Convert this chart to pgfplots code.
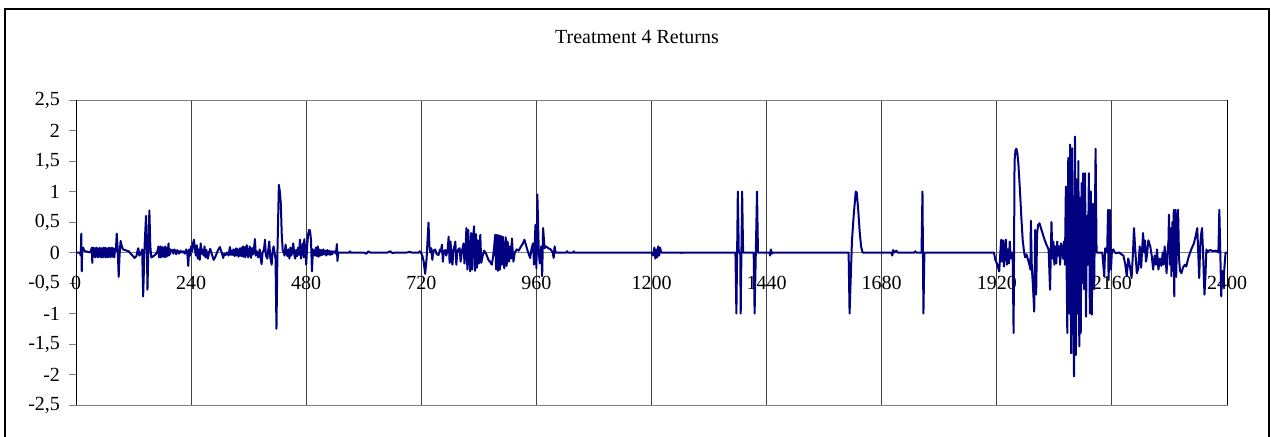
\documentclass[border=0pt]{standalone}
\usepackage{pgfplots}
\pgfplotsset{compat=1.18}
\usepackage{pgfplotstable}
\usepackage{fontspec}
\setmainfont{Liberation Serif}
\definecolor{series}{RGB}{0,0,128}
\definecolor{frame}{RGB}{128,128,128}

\pgfplotstableread{
x y
0 0
8 0
10 -0.05
11 0.31
12 -0.31
13 0.05
15 0.08
17 0.03
20 0.02
25 0.01
30 0
33 0.08
34 -0.17
35 0.07
36 -0.06
37 0.08
38 -0.07
39 0.06
40 -0.08
41 0.07
42 -0.05
43 0.08
44 -0.07
45 0.05
46 -0.08
47 0.06
48 -0.06
49 0.08
50 -0.07
51 0.06
52 -0.08
53 0.07
54 -0.05
55 0.06
56 -0.08
57 0.08
58 -0.06
59 0.05
60 -0.07
61 0.08
62 -0.08
63 0.06
64 -0.05
65 0.07
66 -0.08
67 0.06
68 -0.07
69 0.08
70 -0.06
71 0.05
72 -0.08
73 0.07
74 -0.06
75 0.08
76 -0.07
77 0.06
78 -0.05
79 0.07
80 -0.08
81 0.05
83 0.02
85 0.31
87 0.05
89 -0.40
91 -0.02
93 0.19
95 0.12
98 0.05
102 0.04
106 0.03
110 0.02
114 -0.02
118 -0.05
122 -0.09
126 -0.06
128 0.02
130 0.07
132 -0.05
135 -0.02
138 0.05
140 -0.72
143 0.10
146 0.60
148 0.0
149 -0.61
151 0.1
153 0.69
155 0.1
157 -0.08
160 -0.07
163 -0.05
166 -0.03
169 0.0
172 0.10
173 -0.08
174 0.09
175 -0.06
176 0.10
177 -0.08
178 0.07
179 -0.05
180 0.09
181 -0.07
182 0.08
183 -0.06
184 0.05
185 -0.08
186 0.10
187 -0.04
188 0.06
189 -0.07
190 0.08
191 -0.05
192 0.05
193 0.15
194 -0.05
195 0.06
196 -0.03
197 0.05
199 0.02
201 0.04
203 -0.02
205 0.05
207 0.03
209 -0.03
211 0.04
213 0.02
215 -0.02
218 0.03
221 0.0
224 0.02
227 -0.02
230 0.05
232 0.0
234 -0.22
236 0.05
238 -0.05
240 0.10
242 0.02
244 0.15
246 0.21
248 0.05
250 -0.05
252 0.12
254 -0.10
256 0.05
258 -0.12
260 0.15
262 -0.02
264 0.05
266 -0.05
268 0.10
270 -0.08
272 0.04
275 -0.10
278 0.02
280 0.06
283 -0.02
287 -0.12
290 -0.08
294 0.00
297 0.05
300 0.09
303 0.02
307 -0.09
309 -0.02
312 -0.04
315 0.0
318 -0.05
321 0.09
323 -0.04
325 0.03
327 -0.04
328 0.05
329 -0.03
330 0.04
331 -0.06
332 0.05
333 -0.03
334 0.07
335 -0.05
336 0.06
337 -0.04
338 0.03
339 -0.07
340 0.05
341 -0.04
342 0.07
343 -0.05
344 0.04
345 -0.06
346 0.08
347 -0.05
348 0.10
349 -0.07
350 0.04
351 -0.06
352 0.09
353 -0.08
354 0.05
355 -0.03
356 0.12
357 -0.05
358 0.04
359 -0.08
360 0.06
361 -0.04
362 0.10
363 -0.06
364 0.08
365 -0.09
366 0.05
367 -0.04
368 0.07
370 -0.03
373 0.22
375 -0.05
377 0.02
380 -0.08
383 0.05
385 -0.10
387 -0.19
389 0.0
392 0.05
394 0.21
396 -0.05
399 -0.10
401 0.05
403 0.18
405 -0.08
408 -0.20
410 0.02
412 0.10
414 0.0
416 -0.10
418 -1.25
420 0.0
423 1.11
425 1.0
427 0.81
429 0.3
431 0.04
433 0.0
435 -0.05
437 0.13
439 0.0
441 -0.06
443 0.05
445 -0.10
447 0.08
449 -0.05
451 0.02
453 0.15
455 -0.03
457 -0.10
459 0.04
461 -0.06
463 0.08
465 -0.04
467 0.21
469 -0.10
471 0.05
473 0.15
475 -0.08
476 0.22
478 0.05
480 -0.20
482 0.10
484 0.30
486 0.37
488 0.36
490 0.20
492 -0.31
494 0.05
496 0.02
498 -0.05
500 0.08
502 -0.06
504 0.10
506 -0.07
508 0.05
510 -0.05
512 0.04
514 -0.04
516 0.05
518 -0.03
520 0.03
522 -0.05
524 0.04
526 -0.03
528 0.03
530 -0.04
532 0.02
534 -0.03
536 0.02
538 0.0
540 0.02
542 -0.02
544 0.14
545 -0.14
547 0.0
570 0
571 0.02
572 0
600 0
605 -0.02
610 0.02
613 0
650 0
655 0.02
660 -0.01
665 0
690 0
695 0.01
700 0
715 0
717 0.02
719 0.0
722 -0.05
725 -0.15
728 -0.35
731 -0.1
733 0.2
735 0.49
737 0.1
739 0.0
741 0.07
743 -0.12
745 0.02
747 0.04
749 0.05
752 -0.03
756 -0.04
759 0.05
761 0.02
763 0.13
765 -0.15
767 0.02
770 0.04
772 -0.05
775 0.05
777 0.26
779 -0.17
781 0.18
783 -0.12
785 -0.20
787 0.05
789 0.10
791 0.18
793 -0.20
795 0.0
797 0.05
800 0.07
802 -0.15
805 0.03
808 0.15
810 -0.18
812 0.0
814 0.40
816 -0.28
818 0.37
820 -0.10
822 -0.31
824 0.32
826 -0.28
828 0.25
830 0.43
832 -0.30
834 0.30
836 -0.25
838 0.2
840 -0.18
843 0.29
845 -0.17
848 -0.05
851 0.03
855 -0.02
860 -0.12
864 -0.16
867 -0.20
870 -0.05
872 0.10
874 0.29
876 -0.28
878 0.29
880 -0.30
882 0.28
884 -0.28
886 0.27
888 -0.20
890 0.26
893 -0.26
896 0.25
898 -0.22
900 0.18
903 -0.15
905 0.10
907 -0.10
909 0.23
912 -0.15
915 0.0
919 0.05
923 0.03
928 0.10
932 0.15
935 0.21
938 0.13
942 0.02
947 -0.09
950 0.07
953 0.15
955 -0.20
958 0.45
960 -0.26
962 0.95
965 0.0
967 -0.18
970 0.10
972 -0.39
974 0.40
977 0.07
980 0.10
985 0.07
990 0.05
994 0.0
996 -0.09
998 0.10
1000 0.0
1022 0
1024 0.02
1025 0
1037 0
1038 0.02
1039 0
1200 0
1203 -0.05
1206 0.08
1208 -0.10
1210 0.05
1212 -0.08
1214 0.10
1216 -0.05
1218 0.08
1220 0
1262 0
1263 -0.01
1264 0
1375 0
1377 -1
1380 1
1382 0
1385 0
1386 -1
1389 1
1391 0
1413 0
1415 -1
1420 1
1422 0
1446 0
1447 -0.05
1449 0.05
1451 -0.02
1453 0
1611 0
1613 -1
1618 0.2
1622 0.65
1626 1.0
1628 0.98
1631 0.7
1634 0.35
1637 0.1
1640 0.0
1700 0
1702 -0.05
1704 0.04
1706 0.0
1711 0.03
1713 0
1748 0
1750 0.02
1752 0
1763 0
1765 1
1767 -1
1769 0
1914 0
1917 -0.12
1921 -0.20
1925 -0.31
1927 -0.05
1929 0.21
1931 -0.15
1933 0.20
1935 -0.23
1937 0.10
1939 0.21
1941 -0.20
1943 0.05
1945 -0.18
1947 0.18
1949 -0.10
1951 0.0
1953 0.0
1955 -1.32
1957 1.50
1959 1.68
1961 1.70
1963 1.62
1965 1.45
1968 1.05
1971 0.6
1974 0.2
1977 0.0
1979 -0.08
1982 -0.03
1985 -0.12
1988 -0.20
1990 -0.28
1991 0.52
1993 -0.25
1995 -0.5
1998 -0.97
2000 0.37
2002 -0.69
2004 0.30
2006 0.45
2009 0.48
2012 0.40
2016 0.30
2020 0.20
2024 0.12
2028 0.05
2031 -0.61
2034 0.50
2036 -0.10
2038 0.18
2040 -0.20
2042 0.10
2044 -0.18
2046 0.18
2048 -0.05
2050 0.10
2052 -0.20
2054 0.15
2056 0.05
2058 -0.10
2060 0.18
2062 -0.20
2064 1.08
2066 -0.6
2067 -1.32
2068 0.5
2069 1.55
2070 -0.5
2071 -1.0
2073 1.77
2075 -1.65
2077 1.71
2079 -0.8
2081 -2.03
2083 1.90
2085 -1.68
2087 1.2
2089 -1.0
2090 1.5
2092 -1.54
2094 0.9
2095 -1.32
2097 1.14
2099 -0.5
2100 1.30
2102 -0.6
2104 1.30
2106 -1.05
2108 0.6
2110 -0.2
2112 1.3
2114 -1.0
2116 1.0
2118 -1.02
2121 0.8
2123 -0.6
2126 1.70
2128 0.0
2140 0
2142 -0.2
2144 -0.39
2146 0.07
2150 0.0
2152 0.70
2153 -0.45
2155 0.1
2156 0.70
2158 -0.28
2160 0.02
2163 0.05
2166 0.0
2170 -0.01
2175 0.0
2180 -0.03
2184 -0.05
2188 -0.2
2191 -0.39
2194 -0.1
2197 -0.2
2201 -0.42
2204 0.0
2206 0.40
2209 0.0
2212 -0.34
2215 -0.26
2218 0.10
2221 -0.25
2223 0.05
2225 0.32
2227 0.0
2229 0.20
2231 -0.15
2233 -0.05
2236 0.20
2240 0.10
2243 -0.05
2246 -0.28
2249 -0.05
2252 -0.2
2254 0.05
2257 -0.28
2260 -0.1
2263 -0.22
2266 0.0
2268 -0.2
2270 0.10
2272 -0.1
2274 -0.34
2276 0.0
2278 0.2
2279 0.62
2281 -0.2
2283 0.4
2284 -0.39
2286 0.5
2287 -0.3
2289 0.70
2290 -0.72
2291 0.3
2293 0.70
2294 -0.4
2296 0.2
2298 0.70
2300 -0.1
2302 -0.30
2305 -0.34
2308 -0.25
2312 -0.20
2315 -0.23
2319 -0.1
2323 0.0
2327 0.08
2331 0.15
2334 0.25
2336 0.32
2338 0.40
2340 0.0
2342 -0.42
2344 0.1
2346 0.3
2348 0.40
2350 0.0
2353 -0.69
2355 -0.39
2357 0.05
2359 0.0
2362 0.03
2366 0.04
2370 0.02
2375 0.03
2380 0.02
2382 0.0
2384 0.70
2386 0.0
2388 -0.72
2390 -0.3
2392 -0.56
2395 -0.2
2397 0.0
2400 0.0
}\returns

\begin{document}
\begin{tikzpicture}
\useasboundingbox (0,0) rectangle (635.5bp,218.5bp);
% chart area border (bottom edge runs off the page)
\draw[black, line width=0.8bp] (2.5bp,-5bp) rectangle (634.5bp,214bp);
\node[font=\fontsize{10bp}{12bp}\selectfont] at (318.5bp,200bp) {Treatment 4 Returns};
\begin{axis}[
  at={(38bp,16bp)}, anchor=south west,
  scale only axis, width=575.5bp, height=152.5bp,
  xmin=0, xmax=2400, ymin=-2.5, ymax=2.5,
  axis line style={frame, line width=0.5bp},
  xtick={0,240,...,2400},
  xticklabels={0,240,480,720,960,1200,1440,1680,1920,2160,2400},
  ytick={-2.5,-2,...,2.5},
  yticklabels={{-2,5},{-2},{-1,5},{-1},{-0,5},{0},{0,5},{1},{1,5},{2},{2,5}},
  xtick style={draw=none},
  ytick style={frame, line width=0.5bp},
  ytick pos=left, ytick align=outside, major tick length=3.5bp,
  xmajorgrids, ymajorgrids=false,
  major grid style={black!75, line width=0.5bp},
  tick label style={font=\fontsize{10bp}{12bp}\selectfont},
  yticklabel style={xshift=-1bp},
  xticklabel style={yshift=68bp},
  clip=false,
]
% horizontal axis crossing at zero
\draw[frame, line width=0.5bp] (axis cs:0,0) -- (axis cs:2400,0);
\draw[black, line width=0.5bp] (rel axis cs:0,0) -- (rel axis cs:0,1);
\draw[black, line width=0.5bp] (rel axis cs:1,0) -- (rel axis cs:1,1);
\addplot[series, line width=1bp, line join=round, mark=none] table[x=x, y=y] {\returns};
\end{axis}
\end{tikzpicture}
\end{document}
